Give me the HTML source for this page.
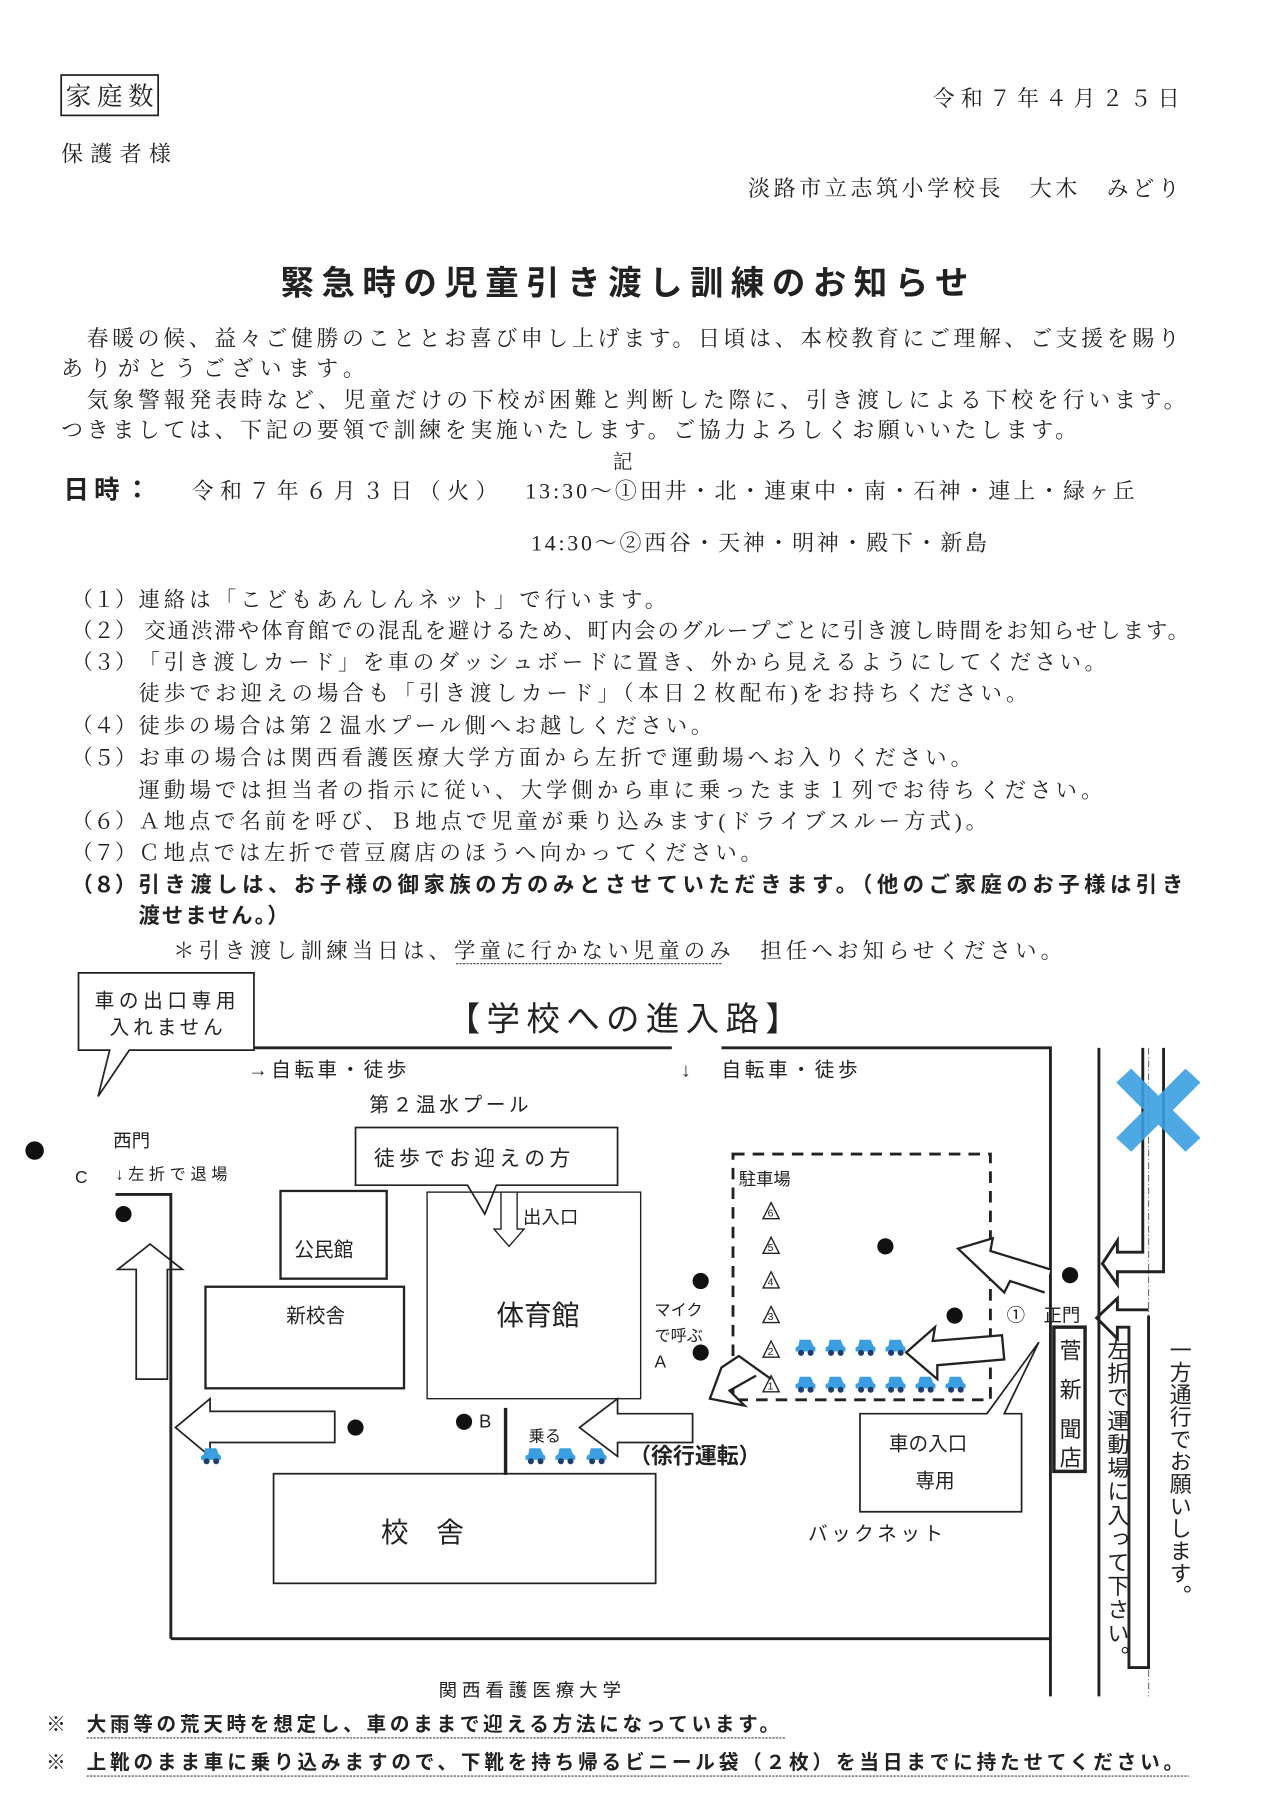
<!DOCTYPE html>
<html><head><meta charset="utf-8"><style>
html,body{margin:0;padding:0;background:#fff}
svg{display:block}
.m{font-family:"Liberation Serif","Noto Serif CJK SC","Noto Sans CJK JP",serif;fill:#222}
.g{font-family:"Liberation Sans","Noto Sans CJK JP",sans-serif;fill:#222}
.b{font-weight:bold}
</style></head><body>
<svg width="1280" height="1809" viewBox="0 0 1100 1555" preserveAspectRatio="none" xmlns="http://www.w3.org/2000/svg">
<defs>
<symbol id="car" viewBox="0 0 16 14">
<path d="M1 10 L1 7 L3 6 L4 1.5 L12 1.5 L14 6 L15.5 7 L15.5 10 Z" fill="#3b9ee0"/>
<circle cx="5" cy="11" r="2.2" fill="#1d3d6e"/><circle cx="12" cy="11" r="2.2" fill="#1d3d6e"/>
</symbol>
</defs>
<rect width="1100" height="1555" fill="#fff"/>
<g transform="scale(0.992)">
<!-- header -->
<rect x="53" y="65" width="84" height="35" fill="none" stroke="#222" stroke-width="1.5"/>
<text x="57" y="91" class="m" font-size="22" textLength="76">家庭数</text>
<text x="808" y="92" class="m" font-size="19" textLength="214">令和７年４月２５日</text>
<text x="53" y="140" class="m" font-size="19" textLength="95">保護者様</text>
<text x="648" y="170" class="m" font-size="19" textLength="374">淡路市立志筑小学校長　大木　みどり</text>
<text x="243" y="255" class="g b" font-size="29" textLength="596">緊急時の児童引き渡し訓練のお知らせ</text>
<text x="75" y="300" class="m" font-size="19" textLength="947">春暖の候、益々ご健勝のこととお喜び申し上げます。日頃は、本校教育にご理解、ご支援を賜り</text>
<text x="53" y="326" class="m" font-size="19" textLength="263">ありがとうございます。</text>
<text x="75" y="353" class="m" font-size="19" textLength="952">気象警報発表時など、児童だけの下校が困難と判断した際に、引き渡しによる下校を行います。</text>
<text x="53" y="379" class="m" font-size="19" textLength="880">つきましては、下記の要領で訓練を実施いたします。ご協力よろしくお願いいたします。</text>
<text x="531" y="406" class="m" font-size="17">記</text>
<text x="55" y="432" class="g b" font-size="22" textLength="75">日時：</text>
<text x="166" y="432" class="m" font-size="19" textLength="265">令和７年６月３日（火）</text>
<text x="455" y="432" class="m" font-size="19" textLength="528">13:30〜①田井・北・連東中・南・石神・連上・緑ヶ丘</text>
<text x="460" y="477" class="m" font-size="19" textLength="395">14:30〜②西谷・天神・明神・殿下・新島</text>
<!-- items -->
<g class="m" font-size="18.5">
<text x="62" y="526" textLength="56">（１）</text><text x="120" y="526" textLength="457">連絡は「こどもあんしんネット」で行います。</text>
<text x="62" y="553" textLength="56">（２）</text><text x="125" y="553" textLength="905">交通渋滞や体育館での混乱を避けるため、町内会のグループごとに引き渡し時間をお知らせします。</text>
<text x="62" y="580" textLength="56">（３）</text><text x="120" y="580" textLength="838">「引き渡しカード」を車のダッシュボードに置き、外から見えるようにしてください。</text>
<text x="120" y="607" textLength="770">徒歩でお迎えの場合も「引き渡しカード」（本日２枚配布)をお持ちください。</text>
<text x="62" y="635" textLength="56">（４）</text><text x="120" y="635" textLength="497">徒歩の場合は第２温水プール側へお越しください。</text>
<text x="62" y="663" textLength="56">（５）</text><text x="120" y="663" textLength="722">お車の場合は関西看護医療大学方面から左折で運動場へお入りください。</text>
<text x="120" y="691" textLength="835">運動場では担当者の指示に従い、大学側から車に乗ったまま１列でお待ちください。</text>
<text x="62" y="718" textLength="56">（６）</text><text x="120" y="718" textLength="735">Ａ地点で名前を呼び、Ｂ地点で児童が乗り込みます(ドライブスルー方式)。</text>
<text x="62" y="745" textLength="56">（７）</text><text x="120" y="745" textLength="540">Ｃ地点では左折で菅豆腐店のほうへ向かってください。</text>
</g>
<g class="g b" font-size="18.5">
<text x="62" y="773" textLength="56">（８）</text><text x="120" y="773" textLength="905">引き渡しは、お子様の御家族の方のみとさせていただきます。（他のご家庭のお子様は引き</text>
<text x="120" y="800" textLength="130">渡せません。）</text>
</g>
<text x="150" y="830" class="m" font-size="18.5" textLength="770">＊引き渡し訓練当日は、学童に行かない児童のみ　担任へお知らせください。</text>
<line x1="395" y1="835" x2="625" y2="835" stroke="#555" stroke-width="1" stroke-dasharray="2,1"/>
<!-- map -->
<g fill="none" stroke="#222">
<path d="M68 843 H220 V910 H112 L85 950 L95 910 H68 Z" fill="#fff" stroke-width="1.5"/>
<path d="M220 908 H582 M625 908 H910 V1470" stroke-width="2.5"/>
<path d="M952 908 V1470" stroke-width="2.5"/>
<path d="M995 908 V1470" stroke="#777" stroke-width="1" stroke-dasharray="6,2,1,2"/>
<path d="M148 1420 H910" stroke-width="2.5"/>
<path d="M100 1035 H148 V1420" stroke-width="2.5"/>
<path d="M118 1195 V1100 H102 L130 1078 L158 1100 H145 V1195 Z" stroke-width="1.5"/>
<path d="M308 977 H535 V1027 H430 L420 1052 L405 1027 H308 Z" fill="#fff" stroke-width="1.5"/>
<rect x="370" y="1033" width="185" height="179" stroke-width="1.2"/>
<path d="M434 1033 V1065 H428 L441 1080 L454 1065 H448 V1033" stroke-width="1.2"/>
<rect x="243" y="1032" width="92" height="76" stroke-width="2"/>
<rect x="178" y="1115" width="172" height="88" stroke-width="2"/>
<rect x="237" y="1277" width="331" height="95" stroke-width="1.5"/>
<path d="M290 1223 V1250 H182 V1262 L152 1237 L182 1212 V1223 Z" stroke-width="1.5"/>
<path d="M438 1220 V1278" stroke-width="3"/>
<path d="M600 1225 V1250 H535 V1262 L502 1237 L535 1212 V1225 Z" stroke-width="1.5"/>
<rect x="635" y="1000" width="223" height="213" stroke-width="2.5" stroke-dasharray="10,7"/>
<path d="M905 1120 L875 1110 L870 1120 L830 1082 L860 1073 L858 1084 L910 1100" fill="#fff" stroke-width="2"/>
<path d="M868 1157 L808 1162 L810 1150 L785 1172 L812 1195 L812 1183 L870 1178 Z" fill="#fff" stroke-width="2"/>
<path d="M668 1195 L640 1175 L625 1185 L615 1212 L645 1218 L632 1205 L655 1192" fill="#fff" stroke-width="2"/>
<path d="M745 1225 H855 L900 1163 L870 1225 H885 V1310 H745 Z" fill="#fff" stroke-width="1.5"/>
<rect x="913" y="1150" width="27" height="125" stroke-width="3"/>
<path d="M990 908 V1085 H968 V1075 L955 1095 L968 1113 V1102 H1008 V908" stroke-width="2.5"/>
<path d="M995 1140 V1445 H978 V1150 H968 V1160 L950 1142 L968 1125 V1135 H995" stroke-width="2.5"/>
<path d="M661 1056 L668 1042 L675 1056 Z M661 1086 L668 1072 L675 1086 Z M661 1116 L668 1102 L675 1116 Z M661 1146 L668 1132 L675 1146 Z M661 1176 L668 1162 L675 1176 Z M661 1206 L668 1192 L675 1206 Z" stroke-width="1.2"/>
</g>
<g class="g" font-size="9">
<text x="665" y="1054">6</text><text x="665" y="1084">5</text><text x="665" y="1114">4</text><text x="665" y="1144">3</text><text x="665" y="1174">2</text><text x="665" y="1204">1</text>
</g>
<g fill="#3b9ee0" stroke="none">
<path d="M967 938 L980 926 L1040 986 L1027 998 Z M1027 926 L1040 938 L980 998 L967 986 Z" opacity="0.9"/>
</g>
<g fill="#111">
<circle cx="30" cy="997" r="8"/><circle cx="107" cy="1052" r="7"/>
<circle cx="308" cy="1237" r="7"/><circle cx="402" cy="1232" r="7"/>
<circle cx="767" cy="1080" r="7"/><circle cx="607" cy="1110" r="7"/>
<circle cx="827" cy="1140" r="7"/><circle cx="607" cy="1172" r="7"/>
<circle cx="927" cy="1105" r="7"/>
</g>
<g>
<use href="#car" x="173" y="1253" width="19" height="17"/>
<use href="#car" x="454" y="1253" width="19" height="17"/>
<use href="#car" x="480" y="1253" width="19" height="17"/>
<use href="#car" x="507" y="1253" width="19" height="17"/>
<use href="#car" x="688" y="1159" width="19" height="17"/>
<use href="#car" x="714" y="1159" width="19" height="17"/>
<use href="#car" x="740" y="1159" width="19" height="17"/>
<use href="#car" x="766" y="1159" width="19" height="17"/>
<use href="#car" x="688" y="1191" width="19" height="17"/>
<use href="#car" x="714" y="1191" width="19" height="17"/>
<use href="#car" x="740" y="1191" width="19" height="17"/>
<use href="#car" x="766" y="1191" width="19" height="17"/>
<use href="#car" x="792" y="1191" width="19" height="17"/>
<use href="#car" x="818" y="1191" width="19" height="17"/>
</g>
<g class="g" font-size="17">
<text x="82" y="873" textLength="122">車の出口専用</text>
<text x="95" y="896" textLength="98">入れません</text>
<text x="387" y="893" font-size="29" textLength="305">【学校への進入路】</text>
<text x="215" y="933" textLength="137">→自転車・徒歩</text>
<text x="590" y="933">↓</text>
<text x="625" y="933" textLength="118">自転車・徒歩</text>
<text x="320" y="963" textLength="138">第２温水プール</text>
<text x="98" y="994" font-size="16">西門</text>
<text x="65" y="1025" font-size="15">C</text>
<text x="100" y="1022" font-size="14" textLength="97">↓左折で退場</text>
<text x="324" y="1010" font-size="18" textLength="170">徒歩でお迎えの方</text>
<text x="453" y="1060" font-size="16">出入口</text>
<text x="255" y="1089" font-size="17">公民館</text>
<text x="248" y="1146" font-size="17">新校舎</text>
<text x="430" y="1148" font-size="24">体育館</text>
<text x="330" y="1336" font-size="24">校　舎</text>
<text x="415" y="1237" font-size="16">B</text>
<text x="458" y="1249" font-size="14">乗る</text>
<text x="545" y="1268" font-size="19" font-weight="bold">（徐行運転）</text>
<text x="640" y="1027" font-size="15">駐車場</text>
<text x="567" y="1140" font-size="14">マイク</text>
<text x="567" y="1162" font-size="14">で呼ぶ</text>
<text x="567" y="1185" font-size="15">A</text>
<text x="872" y="1145" font-size="16">①　正門</text>
<text x="770" y="1257" font-size="17">車の入口</text>
<text x="793" y="1289" font-size="17">専用</text>
<text x="700" y="1335" font-size="17" textLength="117">バックネット</text>
<text x="380" y="1470" font-size="16" textLength="158">関西看護医療大学</text>
</g>
<g class="g" font-size="19">
<text x="918" y="1177">菅</text><text x="918" y="1211">新</text><text x="918" y="1245">聞</text><text x="918" y="1270">店</text>
</g>
<text x="968" y="1160" class="g" font-size="19" style="writing-mode:tb" textLength="285">左折で運動場に入って下さい。</text>
<text x="1022" y="1160" class="g" font-size="19" style="writing-mode:tb" textLength="232">一方通行でお願いします。</text>
<g class="g b" font-size="17">
<text x="40" y="1500">※</text>
<text x="75" y="1500" textLength="600">大雨等の荒天時を想定し、車のままで迎える方法になっています。</text>
<text x="40" y="1533">※</text>
<text x="75" y="1533" textLength="950">上靴のまま車に乗り込みますので、下靴を持ち帰るビニール袋（２枚）を当日までに持たせてください。</text>
</g>
<line x1="75" y1="1506" x2="680" y2="1506" stroke="#444" stroke-width="1" stroke-dasharray="2,1"/>
<line x1="75" y1="1539" x2="1030" y2="1539" stroke="#444" stroke-width="1" stroke-dasharray="2,1"/>
</g>
</svg>
</body></html>
